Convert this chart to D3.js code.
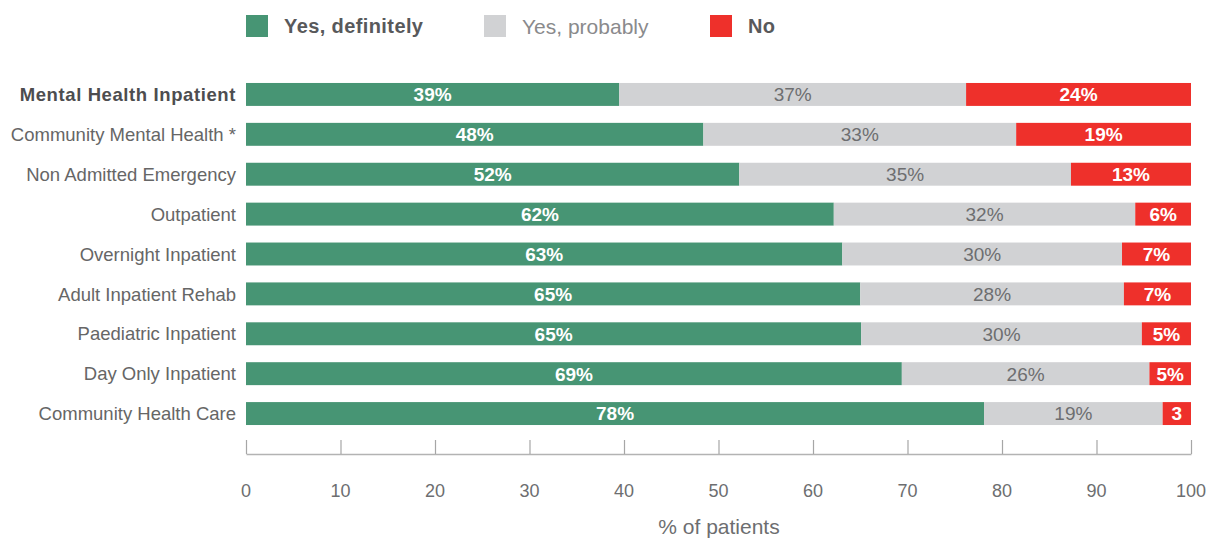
<!DOCTYPE html>
<html>
<head>
<meta charset="utf-8">
<script src="https://cdn.jsdelivr.net/npm/d3@7"></script>
<style>
  body { margin: 0; background: #fff; }
  svg { font-family: "Liberation Sans", Arial, sans-serif; }
</style>
</head>
<body>
<svg id="svg" width="1209" height="540"></svg>
<script>
// categories, top to bottom
var categories = [
  "Mental Health Inpatient",
  "Community Mental Health *",
  "Non Admitted Emergency",
  "Outpatient",
  "Overnight Inpatient",
  "Adult Inpatient Rehab",
  "Paediatric Inpatient",
  "Day Only Inpatient",
  "Community Health Care"
];

// segment widths (% of patients)
var yesDefinitely = [39.5, 48.4, 52.2, 62.2, 63.1, 65.0, 65.1, 69.4, 78.1];
var yesProbably = [36.7, 33.1, 35.1, 31.9, 29.6, 27.9, 29.7, 26.2, 18.9];
var no = [23.8, 18.5, 12.7, 5.9, 7.3, 7.1, 5.2, 4.4, 3.0];

// printed labels
var yesDefinitelyLabels = ["39%", "48%", "52%", "62%", "63%", "65%", "65%", "69%", "78%"];
var yesProbablyLabels = ["37%", "33%", "35%", "32%", "30%", "28%", "30%", "26%", "19%"];
var noLabels = ["24%", "19%", "13%", "6%", "7%", "7%", "5%", "5%", "3"];

var seriesNames = ["Yes, definitely", "Yes, probably", "No"];
var xTicks = [0, 10, 20, 30, 40, 50, 60, 70, 80, 90, 100];

var colors = ["#479574", "#d1d2d4", "#ee302b"];
var labelColors = ["#fff", "#6d6e70", "#fff"];

var svg = d3.select("#svg");

var x = d3.scaleLinear().domain([0, 100]).range([246, 1191]);
var y = d3
  .scaleBand()
  .domain(categories)
  .range([74.5, 433.5])
  .paddingInner(0.425)
  .paddingOuter(0.2125);

// build stacked rows
var rows = categories.map((c, i) => ({
  cat: c,
  values: [yesDefinitely[i], yesProbably[i], no[i]],
  labels: [yesDefinitelyLabels[i], yesProbablyLabels[i], noLabels[i]]
}));

var stack = d3.stack().keys([0, 1, 2]).value((d, k) => d.values[k]);
var layers = stack(rows);

var groups = svg
  .selectAll(".layer")
  .data(layers)
  .enter()
  .append("g")
  .attr("class", "layer")
  .attr("fill", d => colors[d.key]);

groups
  .selectAll("rect")
  .data(d => d)
  .enter()
  .append("rect")
  .attr("x", d => x(d[0]))
  .attr("y", d => y(d.data.cat))
  .attr("width", d => x(d[1]) - x(d[0]))
  .attr("height", y.bandwidth());

groups
  .selectAll("text")
  .data(d => d.map(p => ({ p: p, key: d.key })))
  .enter()
  .append("text")
  .attr("x", d => (x(d.p[0]) + x(d.p[1])) / 2)
  .attr("y", d => y(d.p.data.cat) + y.bandwidth() / 2)
  .attr("dy", "0.36em")
  .attr("text-anchor", "middle")
  .style("font-size", "19px")
  .style("font-weight", d => (d.key === 1 ? "normal" : "bold"))
  .attr("fill", d => labelColors[d.key])
  .text(d => d.p.data.labels[d.key]);

// category labels
svg
  .append("g")
  .selectAll("text")
  .data(categories)
  .enter()
  .append("text")
  .attr("x", 236)
  .attr("y", d => y(d) + y.bandwidth() / 2)
  .attr("dy", "0.36em")
  .attr("text-anchor", "end")
  .style("font-size", "18.5px")
  .style("font-weight", (d, i) => (i === 0 ? "bold" : "normal"))
  .style("letter-spacing", (d, i) => (i === 0 ? "0.6px" : "0px"))
  .attr("fill", (d, i) => (i === 0 ? "#4d4d4f" : "#666"))
  .text(d => d);

// x axis, ticks pointing up
var axis = svg
  .append("g")
  .attr("transform", "translate(0, 454)")
  .call(
    d3
      .axisTop(x)
      .tickValues(xTicks)
      .tickSize(14)
      .tickFormat("")
      .tickSizeOuter(0)
  );
axis.select(".domain").attr("stroke", "#b3b3b3").attr("stroke-width", 1.5);
axis.selectAll(".tick line").attr("stroke", "#a6a6a6").attr("stroke-width", 1.2);

svg
  .append("g")
  .selectAll("text")
  .data(xTicks)
  .enter()
  .append("text")
  .attr("x", d => x(d))
  .attr("y", 491)
  .attr("dy", "0.36em")
  .attr("text-anchor", "middle")
  .style("font-size", "18px")
  .attr("fill", "#6d6e70")
  .text(d => d);

svg
  .append("text")
  .attr("x", 719)
  .attr("y", 526)
  .attr("dy", "0.36em")
  .attr("text-anchor", "middle")
  .style("font-size", "21px")
  .attr("fill", "#6d6e70")
  .text("% of patients");

// legend
var legendX = [246, 484, 710];
var legend = svg
  .append("g")
  .selectAll("g")
  .data(seriesNames)
  .enter()
  .append("g")
  .attr("transform", (d, i) => `translate(${legendX[i]}, 15)`);

legend
  .append("rect")
  .attr("width", 22)
  .attr("height", 22)
  .attr("fill", (d, i) => colors[i]);

legend
  .append("text")
  .attr("x", 38)
  .attr("y", 11)
  .attr("dy", "0.36em")
  .style("font-size", (d, i) => (i === 1 ? "21px" : "20px"))
  .style("font-weight", (d, i) => (i === 1 ? "normal" : "bold"))
  .style("letter-spacing", (d, i) => (i === 1 ? "0px" : "0.4px"))
  .attr("fill", (d, i) => (i === 1 ? "#8a8a8c" : "#58595b"))
  .text(d => d);
</script>
</body>
</html>
